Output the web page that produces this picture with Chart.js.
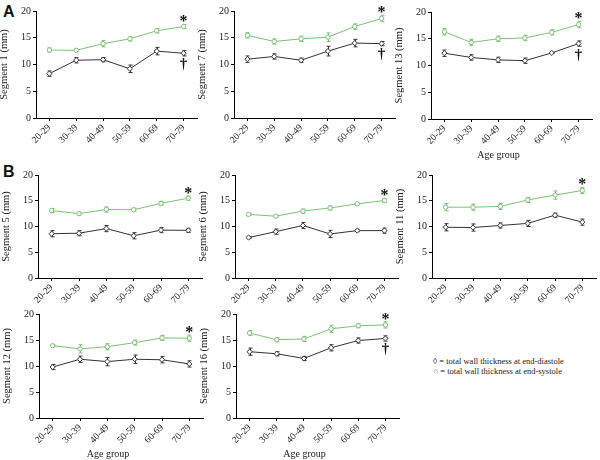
<!DOCTYPE html>
<html>
<head>
<meta charset="utf-8">
<script src="https://cdn.jsdelivr.net/npm/chart.js@4.4.0/dist/chart.umd.min.js"></script>
<style>
  body { margin: 0; background: #fff; width: 600px; height: 460px; position: relative; overflow: hidden; font-family: "Liberation Serif", serif; color: #222; }
  .panel { position: absolute; }
  .tag { position: absolute; font: bold 16px "Liberation Sans", Arial, sans-serif; color: #111; }
  .xtitle { position: absolute; font-size: 10px; width: 80px; margin-left: -40px; text-align: center; }
  #legend { position: absolute; left: 433px; top: 356px; font-size: 8.5px; line-height: 10px; white-space: nowrap; color: #222; }
</style>
</head>
<body>
<div class="tag" style="left:3px;top:3px">A</div>
<div class="tag" style="left:3px;top:163px">B</div>
<div id="legend">
  <div><span style="color:#222">&#9674;</span> = total wall thickness at end-diastole</div>
  <div><span style="color:#5fae59">&#9675;</span> = total wall thickness at end-systole</div>
</div>

<script>
  // Age groups on the x axis
  const ageGroups = ['20-29', '30-39', '40-49', '50-59', '60-69', '70-79'];

  // Segments, in panel order (row by row)
  const segments = [1, 7, 13, 5, 6, 11, 12, 16];

  // Total wall thickness at end-diastole (mm) and its error
  const diastole = [
    [8.3, 10.8, 10.9, 9.2, 12.5, 12.1],
    [11.0, 11.5, 10.8, 12.5, 14.0, 13.9],
    [12.3, 11.5, 11.05, 10.9, 12.35, 14.1],
    [8.6, 8.7, 9.6, 8.2, 9.3, 9.25],
    [7.85, 9.0, 10.2, 8.55, 9.2, 9.2],
    [9.85, 9.8, 10.2, 10.6, 12.2, 10.85],
    [9.8, 11.3, 10.85, 11.3, 11.2, 10.4],
    [12.75, 12.35, 11.45, 13.5, 14.9, 15.3]
  ];
  const diastoleErr = [
    [0.5, 0.5, 0.4, 0.7, 0.7, 0.5],
    [0.6, 0.5, 0.4, 0.9, 0.7, 0.4],
    [0.6, 0.5, 0.5, 0.5, 0.1, 0.5],
    [0.6, 0.5, 0.6, 0.6, 0.5, 0.4],
    [0.2, 0.5, 0.6, 0.7, 0.2, 0.5],
    [0.7, 0.7, 0.5, 0.6, 0.4, 0.6],
    [0.5, 0.6, 0.8, 0.8, 0.6, 0.6],
    [0.7, 0.4, 0.4, 0.6, 0.5, 0.5]
  ];

  // Total wall thickness at end-systole (mm) and its error
  const systole = [
    [12.7, 12.65, 13.9, 14.8, 16.3, 17.1],
    [15.45, 14.3, 14.8, 15.1, 17.1, 18.6],
    [16.3, 14.3, 15.0, 15.15, 16.2, 17.65],
    [13.1, 12.5, 13.3, 13.25, 14.5, 15.5],
    [12.35, 12.0, 13.0, 13.6, 14.4, 15.05],
    [13.75, 13.75, 13.9, 15.15, 16.1, 17.0],
    [13.9, 13.3, 13.7, 14.5, 15.4, 15.35],
    [16.35, 15.05, 15.2, 17.15, 17.75, 17.9]
  ];
  const systoleErr = [
    [0.4, 0.2, 0.6, 0.4, 0.4, 0.4],
    [0.5, 0.5, 0.5, 0.8, 0.5, 0.6],
    [0.6, 0.6, 0.5, 0.5, 0.5, 0.6],
    [0.4, 0.2, 0.5, 0.3, 0.4, 0.4],
    [0.2, 0.2, 0.4, 0.4, 0.2, 0.4],
    [0.7, 0.6, 0.6, 0.5, 0.8, 0.6],
    [0.2, 0.8, 0.6, 0.5, 0.5, 0.6],
    [0.5, 0.4, 0.5, 0.7, 0.4, 0.6]
  ];

  // y axis ticks
  const yTicks = [0, 5, 10, 15, 20];

  // Segments marked with a dagger (every panel gets a star at 70-79)
  const daggerSegments = [1, 7, 13, 16];
  // Panels that show the "Age group" title
  const ageTitleSegments = [13, 12, 16];

  // Where each panel's plot box sits on the page
  const boxes = [
    { axisX: 36, top20: 11, y0: 118, right: 197 },
    { axisX: 234, top20: 11, y0: 118, right: 395 },
    { axisX: 431, top20: 12, y0: 119, right: 592 },
    { axisX: 38, top20: 175, y0: 278, right: 202 },
    { axisX: 235, top20: 175, y0: 278, right: 398 },
    { axisX: 432, top20: 175, y0: 278, right: 596 },
    { axisX: 39, top20: 314, y0: 418, right: 203 },
    { axisX: 236, top20: 314, y0: 418, right: 399 }
  ];

  const GREEN = '#7cc276';
  const DARK = '#333333';
  const YW = 40, PT = 14, XH = 34, PR = 6;

  Chart.defaults.font.family = '"Liberation Serif", "Times New Roman", serif';
  Chart.defaults.color = '#222';

  // error bars, star and dagger
  const marks = {
    id: 'marks',
    beforeDatasetsDraw(chart) {
      const ctx = chart.ctx, xs = chart.scales.x, ys = chart.scales.y;
      chart.data.datasets.forEach(ds => {
        ctx.save();
        ctx.strokeStyle = ds.borderColor;
        ctx.lineWidth = 1;
        ds.data.forEach((v, i) => {
          const e = ds.errors[i];
          const px = Math.round(xs.getPixelForValue(i)) + 0.5;
          const t = ys.getPixelForValue(v + e), b = ys.getPixelForValue(v - e);
          ctx.beginPath();
          ctx.moveTo(px, t); ctx.lineTo(px, b);
          ctx.moveTo(px - 2, t); ctx.lineTo(px + 2, t);
          ctx.moveTo(px - 2, b); ctx.lineTo(px + 2, b);
          ctx.stroke();
        });
        ctx.restore();
      });
    },
    afterDraw(chart) {
      const ctx = chart.ctx, xs = chart.scales.x, ys = chart.scales.y;
      const o = chart.options.plugins.marks;
      const last = ageGroups.length - 1;
      const px = xs.getPixelForValue(last);
      const sys = chart.data.datasets[1], dia = chart.data.datasets[0];
      ctx.save();
      ctx.fillStyle = '#111';
      ctx.textAlign = 'center';
      ctx.font = 'bold 16px "Liberation Serif"';
      ctx.textBaseline = 'alphabetic';
      ctx.fillText('*', px, ys.getPixelForValue(sys.data[last] + sys.errors[last]) + 2);
      if (o.dagger) {
        ctx.font = 'bold 15px "Liberation Serif"';
        ctx.textBaseline = 'top';
        ctx.fillText('\u2020', px, ys.getPixelForValue(dia.data[last] - dia.errors[last]) + 1);
      }
      ctx.restore();
    }
  };

  segments.forEach((seg, k) => {
    const b = boxes[k];
    const left = b.axisX - YW, top = b.top20 - PT;
    const div = document.createElement('div');
    div.className = 'panel';
    div.style.left = left + 'px';
    div.style.top = top + 'px';
    div.style.width = (b.right - left + PR) + 'px';
    div.style.height = (b.y0 - top + XH) + 'px';
    const canvas = document.createElement('canvas');
    div.appendChild(canvas);
    document.body.appendChild(div);

    if (ageTitleSegments.includes(seg)) {
      const t = document.createElement('div');
      t.className = 'xtitle';
      t.textContent = 'Age group';
      t.style.left = ((b.axisX + b.right) / 2 - 13) + 'px';
      t.style.top = (b.y0 + 30) + 'px';
      document.body.appendChild(t);
    }

    new Chart(canvas.getContext('2d'), {
      type: 'line',
      data: {
        labels: ageGroups,
        datasets: [{
          data: diastole[k],
          errors: diastoleErr[k],
          borderColor: DARK,
          backgroundColor: '#fff',
          borderWidth: 1,
          pointStyle: 'rectRot',
          pointRadius: 2.6,
          pointBorderWidth: 1,
          tension: 0
        }, {
          data: systole[k],
          errors: systoleErr[k],
          borderColor: GREEN,
          backgroundColor: '#fff',
          borderWidth: 1,
          pointStyle: 'circle',
          pointRadius: 2.2,
          pointBorderWidth: 1,
          tension: 0
        }]
      },
      options: {
        responsive: true,
        maintainAspectRatio: false,
        animation: false,
        layout: { padding: { top: PT, right: PR, left: 0, bottom: 0 } },
        plugins: {
          legend: { display: false },
          tooltip: { enabled: false },
          marks: { dagger: daggerSegments.includes(seg) }
        },
        scales: {
          x: {
            offset: true,
            afterFit: s => { s.height = XH; },
            border: { display: true, color: '#000', width: 1 },
            grid: { drawOnChartArea: false, drawTicks: true, tickLength: 3, color: '#000', offset: false },
            ticks: { minRotation: 45, maxRotation: 45, padding: 1, font: { size: 9.5 }, color: '#222' }
          },
          y: {
            min: 0,
            max: 20,
            afterFit: s => { s.width = YW; },
            afterBuildTicks: s => { s.ticks = yTicks.map(v => ({ value: v })); },
            border: { display: true, color: '#000', width: 1 },
            grid: { drawOnChartArea: false, drawTicks: true, tickLength: 3, color: '#000' },
            ticks: { padding: 2, font: { size: 10 }, color: '#222' },
            title: { display: true, text: 'Segment ' + seg + ' (mm)', font: { size: 10.5 }, color: '#222', padding: { top: 2, bottom: 0 } }
          }
        }
      },
      plugins: [marks]
    });
  });
</script>
</body>
</html>
